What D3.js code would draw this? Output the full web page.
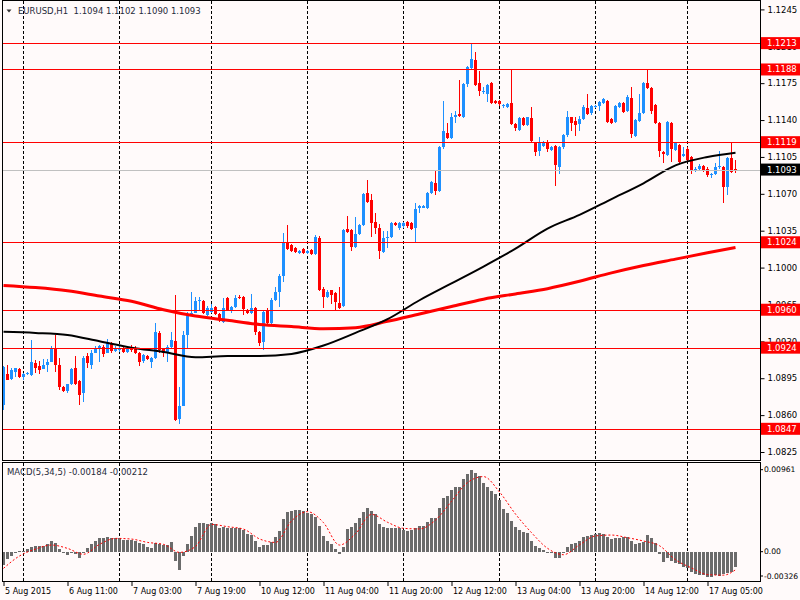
<!DOCTYPE html>
<html>
<head>
<meta charset="utf-8">
<script src="https://cdn.jsdelivr.net/npm/d3@7"></script>
<style>
  body { margin: 0; background: #fffafa; }
  svg { display: block; }
</style>
</head>
<body>
<div id="chart"></div>
<script>
// EURUSD H1, 184 bars from 5 Aug 2015 19:00
const barOpen = [1.0870,1.0899,1.0894,1.0901,1.0904,1.0896,1.0899,1.0898,1.0909,1.0907,1.0904,1.0908,1.0910,1.0924,1.0908,1.0887,1.0883,1.0890,1.0905,1.0892,1.0881,1.0916,1.0908,1.0919,1.0923,1.0925,1.0919,1.0928,1.0921,1.0922,1.0924,1.0920,1.0925,1.0924,1.0919,1.0911,1.0916,1.0910,1.0914,1.0938,1.0923,1.0920,1.0925,1.0930,1.0856,1.0869,1.0936,1.0954,1.0957,1.0968,1.0968,1.0955,1.0958,1.0963,1.0956,1.0948,1.0971,1.0959,1.0963,1.0972,1.0972,1.0960,1.0957,1.0962,1.0939,1.0929,1.0960,1.0947,1.0969,1.0977,1.0992,1.1023,1.1021,1.1019,1.1014,1.1018,1.1014,1.1017,1.1013,1.1028,1.0980,1.0972,1.0979,1.0976,1.0966,1.0964,1.1037,1.1036,1.1020,1.1032,1.1040,1.1071,1.1064,1.1043,1.1038,1.1015,1.1028,1.1029,1.1042,1.1038,1.1039,1.1043,1.1042,1.1038,1.1057,1.1057,1.1057,1.1071,1.1080,1.1073,1.1114,1.1128,1.1123,1.1143,1.1146,1.1143,1.1174,1.1189,1.1197,1.1175,1.1167,1.1165,1.1175,1.1158,1.1158,1.1153,1.1152,1.1156,1.1136,1.1131,1.1142,1.1135,1.1142,1.1118,1.1111,1.1115,1.1119,1.1112,1.1115,1.1095,1.1114,1.1126,1.1143,1.1139,1.1136,1.1141,1.1151,1.1147,1.1152,1.1153,1.1156,1.1158,1.1141,1.1138,1.1152,1.1156,1.1149,1.1161,1.1125,1.1139,1.1147,1.1175,1.1170,1.1154,1.1137,1.1110,1.1107,1.1137,1.1112,1.1116,1.1106,1.1113,1.1105,1.1092,1.1094,1.1096,1.1094,1.1088,1.1089,1.1095,1.1095,1.1076,1.1104,1.1094];
const barHigh = [1.0907,1.0908,1.0905,1.0905,1.0905,1.0900,1.0901,1.0931,1.0912,1.0911,1.0913,1.0913,1.0926,1.0936,1.0914,1.0888,1.0890,1.0905,1.0916,1.0893,1.0916,1.0919,1.0922,1.0926,1.0927,1.0927,1.0932,1.0929,1.0926,1.0926,1.0925,1.0926,1.0927,1.0926,1.0920,1.0918,1.0917,1.0915,1.0947,1.0940,1.0924,1.0927,1.0939,1.0974,1.0887,1.0940,1.0958,1.0977,1.0972,1.0972,1.0969,1.0964,1.0965,1.0964,1.0957,1.0971,1.0972,1.0964,1.0974,1.0974,1.0973,1.0961,1.0975,1.0963,1.0940,1.0960,1.0962,1.0971,1.0982,1.0994,1.1033,1.1040,1.1022,1.1020,1.1017,1.1019,1.1017,1.1018,1.1031,1.1030,1.0982,1.0979,1.0979,1.0977,1.0982,1.1037,1.1049,1.1037,1.1048,1.1041,1.1071,1.1083,1.1070,1.1052,1.1041,1.1035,1.1035,1.1043,1.1043,1.1043,1.1043,1.1044,1.1043,1.1061,1.1059,1.1059,1.1072,1.1082,1.1093,1.1115,1.1158,1.1137,1.1147,1.1149,1.1178,1.1175,1.1191,1.1213,1.1205,1.1187,1.1171,1.1174,1.1176,1.1159,1.1159,1.1155,1.1156,1.1188,1.1137,1.1143,1.1143,1.1143,1.1152,1.1119,1.1124,1.1120,1.1121,1.1115,1.1116,1.1115,1.1127,1.1149,1.1143,1.1143,1.1144,1.1154,1.1165,1.1154,1.1154,1.1158,1.1161,1.1159,1.1142,1.1154,1.1157,1.1157,1.1164,1.1171,1.1141,1.1165,1.1176,1.1188,1.1171,1.1155,1.1138,1.1111,1.1139,1.1138,1.1119,1.1117,1.1114,1.1114,1.1106,1.1095,1.1098,1.1097,1.1095,1.1090,1.1099,1.1111,1.1096,1.1105,1.1118,1.1102];
const barLow = [1.0865,1.0893,1.0893,1.0896,1.0895,1.0893,1.0898,1.0897,1.0900,1.0899,1.0904,1.0901,1.0910,1.0901,1.0884,1.0882,1.0881,1.0889,1.0889,1.0870,1.0872,1.0905,1.0904,1.0919,1.0910,1.0915,1.0919,1.0919,1.0920,1.0920,1.0919,1.0919,1.0920,1.0918,1.0907,1.0909,1.0912,1.0905,1.0913,1.0919,1.0915,1.0910,1.0924,1.0854,1.0852,1.0869,1.0924,1.0954,1.0957,1.0960,1.0956,1.0954,1.0957,1.0955,1.0948,1.0947,1.0959,1.0957,1.0962,1.0970,1.0955,1.0956,1.0956,1.0936,1.0926,1.0922,1.0945,1.0946,1.0968,1.0963,1.0986,1.1017,1.1015,1.1014,1.1013,1.1013,1.1013,1.1012,1.1012,1.0978,1.0962,1.0971,1.0965,1.0960,1.0961,1.0963,1.1033,1.1016,1.1019,1.1031,1.1039,1.1061,1.1029,1.1032,1.1008,1.1014,1.1019,1.1028,1.1039,1.1036,1.1038,1.1038,1.1036,1.1023,1.1052,1.1057,1.1056,1.1070,1.1069,1.1072,1.1113,1.1122,1.1122,1.1137,1.1143,1.1142,1.1171,1.1188,1.1172,1.1163,1.1165,1.1157,1.1155,1.1155,1.1153,1.1151,1.1151,1.1135,1.1130,1.1130,1.1134,1.1134,1.1119,1.1106,1.1106,1.1114,1.1110,1.1111,1.1077,1.1089,1.1113,1.1124,1.1130,1.1125,1.1130,1.1140,1.1145,1.1145,1.1151,1.1149,1.1155,1.1137,1.1136,1.1137,1.1151,1.1147,1.1148,1.1123,1.1124,1.1138,1.1146,1.1169,1.1146,1.1136,1.1105,1.1099,1.1106,1.1100,1.1111,1.1099,1.1105,1.1101,1.1089,1.1091,1.1093,1.1091,1.1086,1.1085,1.1088,1.1094,1.1061,1.1069,1.1090,1.1090];
const barClose = [1.0906,1.0893,1.0903,1.0905,1.0896,1.0899,1.0900,1.0910,1.0905,1.0903,1.0908,1.0910,1.0924,1.0908,1.0887,1.0883,1.0890,1.0904,1.0890,1.0879,1.0914,1.0909,1.0919,1.0923,1.0926,1.0918,1.0928,1.0921,1.0924,1.0924,1.0920,1.0924,1.0922,1.0919,1.0910,1.0917,1.0913,1.0914,1.0939,1.0922,1.0919,1.0925,1.0931,1.0855,1.0869,1.0936,1.0955,1.0957,1.0968,1.0969,1.0957,1.0962,1.0962,1.0956,1.0951,1.0962,1.0960,1.0963,1.0971,1.0971,1.0961,1.0957,1.0962,1.0939,1.0928,1.0958,1.0947,1.0969,1.0977,1.0992,1.1023,1.1018,1.1016,1.1015,1.1016,1.1014,1.1016,1.1013,1.1029,1.0979,1.0972,1.0977,1.0974,1.0967,1.0962,1.1036,1.1034,1.1020,1.1032,1.1040,1.1070,1.1062,1.1042,1.1038,1.1016,1.1028,1.1029,1.1042,1.1040,1.1042,1.1042,1.1039,1.1037,1.1056,1.1058,1.1058,1.1071,1.1081,1.1073,1.1114,1.1130,1.1123,1.1143,1.1145,1.1144,1.1174,1.1190,1.1198,1.1173,1.1168,1.1168,1.1173,1.1156,1.1156,1.1155,1.1154,1.1155,1.1136,1.1132,1.1142,1.1135,1.1143,1.1120,1.1110,1.1118,1.1119,1.1113,1.1114,1.1097,1.1114,1.1126,1.1143,1.1137,1.1135,1.1141,1.1152,1.1146,1.1153,1.1153,1.1157,1.1160,1.1138,1.1137,1.1153,1.1156,1.1148,1.1162,1.1127,1.1140,1.1147,1.1175,1.1170,1.1149,1.1137,1.1111,1.1108,1.1138,1.1113,1.1118,1.1100,1.1108,1.1102,1.1092,1.1094,1.1096,1.1092,1.1088,1.1089,1.1095,1.1096,1.1076,1.1104,1.1091,1.1093];

// moving averages, read every 8 bars
const maBars = [0,8,16,24,32,40,48,56,64,72,80,88,96,104,112,120,128,136,144,152,160,168,176,183];
const maBlack = [1.0939,1.0938,1.0936,1.0930,1.0924,1.0920,1.0915,1.0916,1.0916,1.0918,1.0926,1.0938,1.0951,1.0969,1.0985,1.1001,1.1018,1.1037,1.1050,1.1065,1.1080,1.1097,1.1105,1.1109];
const maRed = [1.0983,1.0981,1.0978,1.0973,1.0968,1.0960,1.0954,1.0950,1.0946,1.0944,1.0942,1.0943,1.0949,1.0956,1.0963,1.0970,1.0975,1.0980,1.0987,1.0995,1.1002,1.1008,1.1014,1.1019];

// MACD(5,34,5) histogram, one value per bar
const macdMain = [-0.00156,-0.00090,-0.00051,-0.00008,0.00008,0.00012,0.00027,0.00055,0.00066,0.00066,0.00070,0.00086,0.00125,0.00098,0.00031,-0.00008,-0.00039,-0.00020,-0.00031,-0.00078,-0.00012,0.00039,0.00086,0.00125,0.00156,0.00156,0.00172,0.00164,0.00160,0.00156,0.00141,0.00141,0.00137,0.00125,0.00098,0.00086,0.00059,0.00047,0.00105,0.00086,0.00078,0.00078,0.00109,-0.00109,-0.00215,-0.00047,0.00086,0.00187,0.00293,0.00332,0.00332,0.00320,0.00332,0.00320,0.00281,0.00293,0.00281,0.00281,0.00281,0.00273,0.00254,0.00207,0.00195,0.00125,0.00059,0.00078,0.00078,0.00109,0.00176,0.00242,0.00383,0.00461,0.00480,0.00492,0.00488,0.00476,0.00449,0.00437,0.00410,0.00305,0.00184,0.00125,0.00086,0.00027,-0.00031,0.00059,0.00266,0.00293,0.00332,0.00391,0.00469,0.00515,0.00476,0.00437,0.00324,0.00293,0.00281,0.00281,0.00281,0.00273,0.00254,0.00246,0.00254,0.00281,0.00301,0.00301,0.00351,0.00398,0.00398,0.00508,0.00625,0.00656,0.00722,0.00761,0.00761,0.00851,0.00910,0.00961,0.00918,0.00890,0.00801,0.00754,0.00715,0.00676,0.00605,0.00500,0.00449,0.00359,0.00293,0.00254,0.00226,0.00215,0.00125,0.00070,0.00039,0.00016,-0.00012,-0.00020,-0.00078,-0.00070,-0.00020,0.00059,0.00086,0.00098,0.00125,0.00176,0.00187,0.00195,0.00203,0.00215,0.00203,0.00176,0.00148,0.00156,0.00164,0.00176,0.00176,0.00125,0.00086,0.00098,0.00109,0.00195,0.00156,0.00098,-0.00031,-0.00117,-0.00078,-0.00109,-0.00137,-0.00148,-0.00176,-0.00195,-0.00234,-0.00266,-0.00273,-0.00273,-0.00293,-0.00293,-0.00273,-0.00281,-0.00266,-0.00254,-0.00234,-0.00184];
// signal line, read every 4 bars
const sigBars = [0,4,8,12,16,20,24,28,32,36,40,44,48,52,56,60,64,68,72,76,80,84,88,92,96,100,104,108,112,116,120,124,128,132,136,140,144,148,152,156,160,164,168,172,176,180,183];
const sigVals = [-0.00195,-0.00050,0.00031,0.00078,0.00039,-0.00030,0.00086,0.00156,0.00148,0.00109,0.00086,-0.00008,0.00061,0.00320,0.00293,0.00265,0.00150,0.00109,0.00360,0.00469,0.00340,0.00078,0.00210,0.00437,0.00345,0.00274,0.00267,0.00370,0.00590,0.00810,0.00880,0.00700,0.00441,0.00223,0.00040,-0.00035,0.00080,0.00185,0.00195,0.00164,0.00125,0.00070,-0.00094,-0.00190,-0.00268,-0.00275,-0.00212];

const priceTicks = [1.1245,1.1210,1.1175,1.1140,1.1105,1.1070,1.1035,1.1000,1.0965,1.0930,1.0895,1.0860,1.0825];
const levels = [1.1213,1.1188,1.1119,1.1024,1.0960,1.0924,1.0847];
const macdTicks = [0.00961, 0.00, -0.00326];
const gridBars = [5,29,52,76,100,124,148,171];
const labelBars = [0,16,32,48,64,80,96,112,128,144,160,176];
const timeLabels = ["5 Aug 2015","6 Aug 11:00","7 Aug 03:00","7 Aug 19:00","10 Aug 12:00","11 Aug 04:00","11 Aug 20:00","12 Aug 12:00","13 Aug 04:00","13 Aug 20:00","14 Aug 12:00","17 Aug 05:00"];

const n = barOpen.length;
const last = n - 1;
const bull = "#1e90ff", bear = "#ff0000";

const svg = d3.select("#chart").append("svg")
    .attr("width", 800).attr("height", 600)
    .style("font-family", "'DejaVu Sans', sans-serif")
    .style("font-size", "8.5px");

svg.append("rect").attr("width", 800).attr("height", 600).attr("fill", "#fffafa");

const x = d3.scaleLinear().domain([0, 183]).range([3.5, 735.5]);
const y = d3.scaleLinear().domain([1.0825, 1.1245]).range([452, 9.4]);
const ym = d3.scaleLinear().domain([-0.00355, 0.01051]).range([582, 462]);

svg.append("clipPath").attr("id", "mainClip")
    .append("rect").attr("x", 3).attr("y", 1).attr("width", 757).attr("height", 459);

// vertical day separators
const grid = svg.append("g").attr("stroke", "#000").attr("stroke-dasharray", "3,2");
gridBars.forEach(i => {
    grid.append("line").attr("x1", x(i)).attr("x2", x(i)).attr("y1", 1).attr("y2", 460);
    grid.append("line").attr("x1", x(i)).attr("x2", x(i)).attr("y1", 463).attr("y2", 581);
});

const main = svg.append("g").attr("clip-path", "url(#mainClip)");

// candles
const candles = main.append("g").attr("shape-rendering", "crispEdges");
d3.range(n).forEach(i => {
    const o = barOpen[i], c = barClose[i];
    const col = c >= o ? bull : bear;
    candles.append("line")
        .attr("x1", x(i)).attr("x2", x(i))
        .attr("y1", y(barHigh[i])).attr("y2", y(barLow[i]))
        .attr("stroke", col);
    const top = y(Math.max(o, c)), bot = y(Math.min(o, c));
    candles.append("rect")
        .attr("x", x(i) - 1.5).attr("width", 3)
        .attr("y", top).attr("height", Math.max(1, bot - top))
        .attr("fill", col);
});

// moving averages
const maLine = d3.line().x(d => x(d[0])).y(d => y(d[1])).curve(d3.curveMonotoneX);
main.append("path").datum(maBars.map((b, k) => [b, maRed[k]]))
    .attr("d", maLine).attr("fill", "none").attr("stroke", "#ff0000").attr("stroke-width", 3);
main.append("path").datum(maBars.map((b, k) => [b, maBlack[k]]))
    .attr("d", maLine).attr("fill", "none").attr("stroke", "#000").attr("stroke-width", 2);

// horizontal levels
levels.forEach(v => {
    main.append("line").attr("x1", 3).attr("x2", 760)
        .attr("y1", Math.round(y(v)) + 0.5).attr("y2", Math.round(y(v)) + 0.5)
        .attr("stroke", "#ff0000");
});
main.append("line").attr("x1", 3).attr("x2", 760)
    .attr("y1", Math.round(y(barClose[last])) + 0.5).attr("y2", Math.round(y(barClose[last])) + 0.5)
    .attr("stroke", "#c0c0c0");

// MACD
const macd = svg.append("g").attr("shape-rendering", "crispEdges");
macdMain.forEach((v, i) => {
    const a = ym(Math.max(v, 0)), b = ym(Math.min(v, 0));
    macd.append("rect").attr("x", x(i) - 1.5).attr("width", 3)
        .attr("y", a).attr("height", Math.max(1, b - a)).attr("fill", "#6b6b6b");
});
svg.append("path").datum(sigBars.map((b, k) => [b, sigVals[k]]))
    .attr("d", d3.line().x(d => x(d[0])).y(d => ym(d[1])).curve(d3.curveMonotoneX))
    .attr("fill", "none").attr("stroke", "#ff0000").attr("stroke-dasharray", "2,2");

// frames
const frame = svg.append("g").attr("stroke", "#000").attr("fill", "none").attr("shape-rendering", "crispEdges");
frame.append("rect").attr("x", 2.5).attr("y", 0.5).attr("width", 758).attr("height", 460);
frame.append("rect").attr("x", 2.5).attr("y", 462.5).attr("width", 758).attr("height", 119);

// right price axis
const yAxis = svg.append("g").attr("transform", "translate(760.5,0)")
    .call(d3.axisRight(y).tickValues(priceTicks).tickSize(4).tickPadding(3).tickFormat(d3.format(".4f")));
yAxis.select(".domain").remove();
yAxis.selectAll("text").attr("fill", "#000").style("font-size", "8.5px").style("font-family", "'DejaVu Sans', sans-serif");

const boxes = svg.append("g");
levels.map(v => [v, "#ff0000"]).concat([[barClose[last], "#000"]]).forEach(([v, col]) => {
    const cy = y(v);
    boxes.append("rect").attr("x", 761).attr("y", cy - 6).attr("width", 39).attr("height", 12).attr("fill", col);
    boxes.append("text").attr("x", 767).attr("y", cy).attr("dy", "0.35em")
        .attr("fill", "#fff").text(d3.format(".4f")(v));
});

// MACD axis
const mAxis = svg.append("g").style("font-size", "7.6px");
macdTicks.forEach(v => {
    const ty = Math.min(ym(v), 576);
    mAxis.append("line").attr("x1", 760).attr("x2", 763).attr("y1", ty).attr("y2", ty).attr("stroke", "#000");
    mAxis.append("text").attr("x", 764).attr("y", ty).attr("dy", "0.35em")
        .text(v === 0 ? "0.00" : v.toFixed(5));
});

// time axis
const xAxis = svg.append("g").attr("transform", "translate(0,582)")
    .call(d3.axisBottom(x).tickValues(labelBars).tickSize(4).tickFormat((d, k) => timeLabels[k]));
xAxis.select(".domain").remove();
xAxis.selectAll("text").attr("text-anchor", "start").attr("dx", 1).attr("y", 9.5).attr("dy", "0.35em")
    .attr("fill", "#000").style("font-size", "8px").style("font-family", "'DejaVu Sans', sans-serif");

// headers
svg.append("path").attr("d", "M6.5,9.5 L11.5,9.5 L9,12.5 Z").attr("fill", "#333");
svg.append("text").attr("x", 18).attr("y", 13.5).attr("fill", "#1f2a3a").style("white-space", "pre")
    .text(`EURUSD,H1  ${barOpen[last].toFixed(4)} ${barHigh[last].toFixed(4)} ${barLow[last].toFixed(4)} ${barClose[last].toFixed(4)}`);
svg.append("text").attr("x", 7).attr("y", 475).attr("fill", "#1f2a3a")
    .text(`MACD(5,34,5) ${macdMain[last].toFixed(5)} ${sigVals[sigVals.length - 1].toFixed(5)}`);
</script>
</body>
</html>
